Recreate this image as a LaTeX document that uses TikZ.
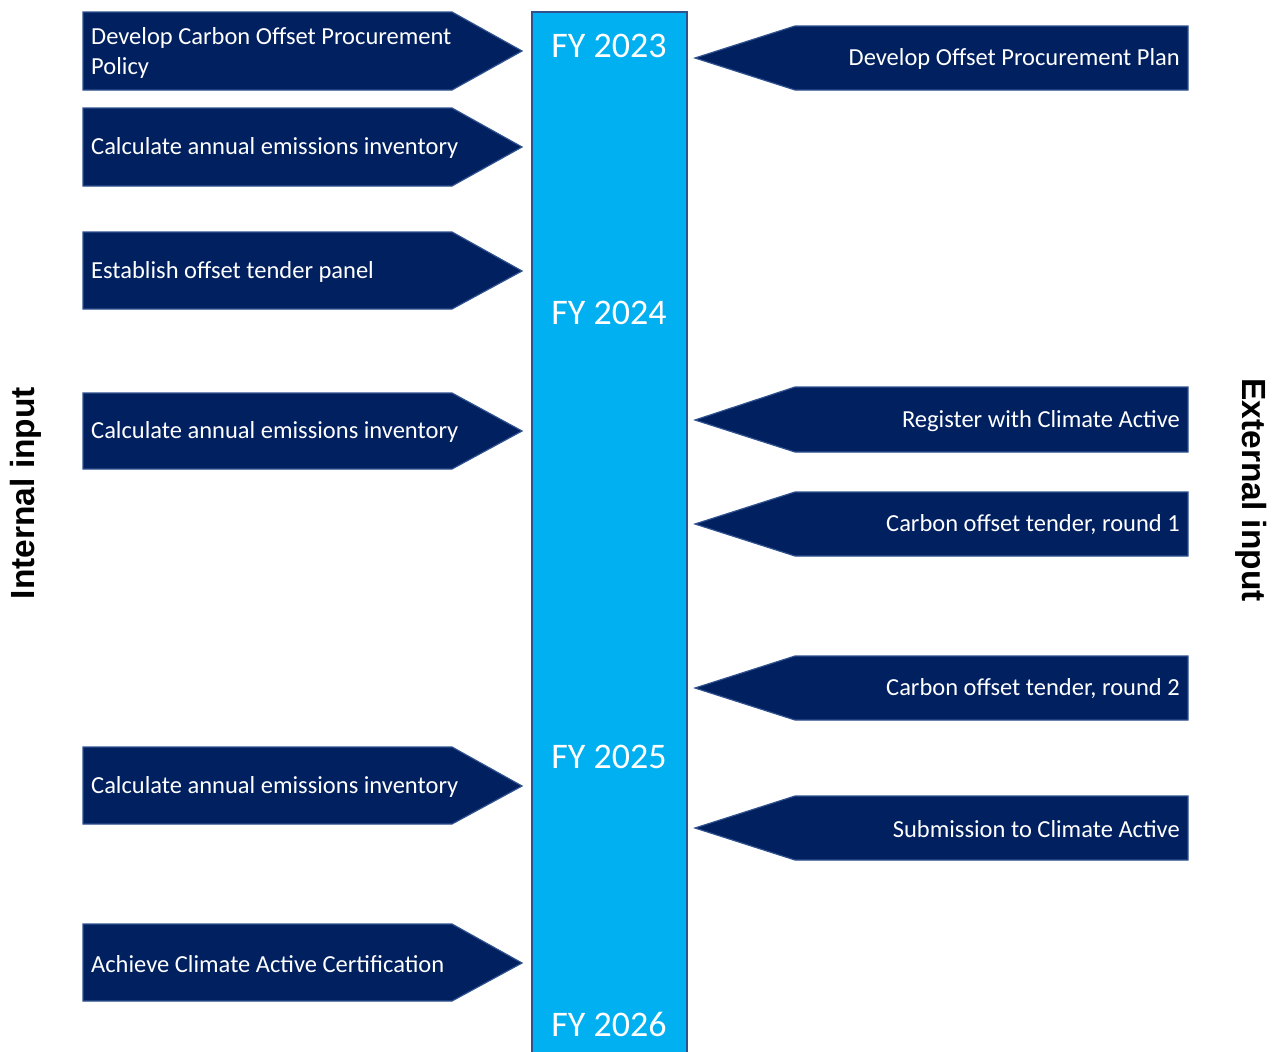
\documentclass[tikz,border=0pt]{standalone}
\usepackage{fontspec}
\setmainfont{Carlito}
\newfontfamily\sidefont{Liberation Sans}
\definecolor{navy}{HTML}{002060}
\definecolor{edge}{HTML}{2F528F}
\definecolor{barblue}{HTML}{00B0F0}
\begin{document}
\begin{tikzpicture}[x=1pt,y=-1pt,
  shapebox/.style={fill=navy,draw=edge,line width=1.2pt},
  bar/.style={fill=barblue,draw=edge,line width=1.2pt},
  ltxt/.style={text=white,anchor=west,inner sep=0pt,font=\fontsize{24.5}{30}\selectfont,align=left},
  rtxt/.style={text=white,anchor=east,inner sep=0pt,font=\fontsize{24.5}{30}\selectfont,align=right},
  fy/.style={text=white,inner sep=0pt,font=\fontsize{36}{40}\selectfont},
  side/.style={inner sep=0pt,font=\sidefont\bfseries\fontsize{33.5}{38}\selectfont}]
\useasboundingbox (0,0) rectangle (1277,1052);
% central bar
\draw[bar] (532,12) rectangle (687,1060);
\node[fy] (fy23) at (609,46) {FY 2023};
\node[fy] (fy24) at (609,313) {FY 2024};
\node[fy] (fy25) at (609,757) {FY 2025};
\node[fy] (fy26) at (609,1024) {FY 2026};
% left arrows
\foreach \t/\c/\b in {12/51/90, 108/147/186, 232/271/309, 393/431/469, 747/786/824, 924/963/1001}{
  \draw[shapebox] (83,\t) -- (452,\t) -- (522,\c) -- (452,\b) -- (83,\b) -- cycle;
}
\node[ltxt] (l1) at (91,53) {Develop Carbon Offset Procurement\\Policy};
\node[ltxt] (l2) at (91,148) {Calculate annual emissions inventory};
\node[ltxt] (l3) at (91,272) {Establish offset tender panel};
\node[ltxt] (l4) at (91,432) {Calculate annual emissions inventory};
\node[ltxt] (l5) at (91,787) {Calculate annual emissions inventory};
\node[ltxt] (l6) at (91,964) {Achieve Climate Active Certification};
% right arrows
\foreach \t/\c/\b in {26/58/90, 387/420/452, 492/524/556, 656/688/720, 796/828/860}{
  \draw[shapebox] (1188,\t) -- (795,\t) -- (695,\c) -- (795,\b) -- (1188,\b) -- cycle;
}
\node[rtxt] (r1) at (1180,59) {Develop Offset Procurement Plan};
\node[rtxt] (r2) at (1180,421) {Register with Climate Active};
\node[rtxt] (r3) at (1180,525) {Carbon offset tender, round 1};
\node[rtxt] (r4) at (1180,689) {Carbon offset tender, round 2};
\node[rtxt] (r5) at (1180,829) {Submission to Climate Active};
% side labels
\node[side,rotate=90] (internal) at (26,493) {Internal input};
\node[side,rotate=-90] (external) at (1251,490) {External input};
\end{tikzpicture}
\end{document}
